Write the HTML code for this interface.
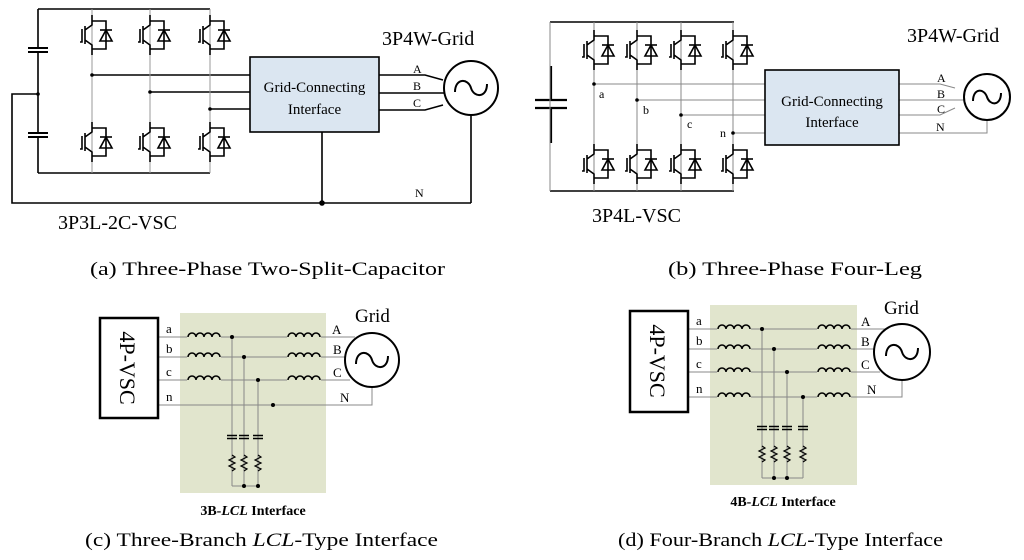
<!DOCTYPE html>
<html><head><meta charset="utf-8"><style>
html,body{margin:0;padding:0;background:#fff}
svg{display:block}
text{font-family:"Liberation Serif",serif}
</style></head><body>
<svg width="1024" height="560" viewBox="0 0 1024 560" xmlns="http://www.w3.org/2000/svg">
<defs>
<g id="sw" fill="none" stroke="#000" stroke-width="1.6">
<path d="M0 0V10L-7 15M-7 11V29M-7 25L0 30V40M-12 27H-10V14"/>
<path d="M0 6H14V34H0"/>
<polygon points="8,26 20,26 14,15" />
<path d="M8 15H20"/>
</g>
<g id="ind" fill="none" stroke="#000" stroke-width="1.6">
<path d="M0 0a4 4 0 0 1 8 0a4 4 0 0 1 8 0a4 4 0 0 1 8 0a4 4 0 0 1 8 0"/>
</g>
<g id="rc" fill="none" stroke="#000" stroke-width="1.2">
<path d="M-5 -1.5H5M-5 1.5H5" stroke-width="1.4"/>
<path d="M0 18l3 2l-6 3l6 3l-6 3l6 3l-3 2"/>
</g>
</defs>

<!-- ============ Panel (a) ============ -->
<g stroke="#000" fill="none" stroke-width="1.6">
<path d="M38 9H210M38 173H210"/>
<path d="M38 9V48M38 52V94M38 94V133M38 137V173" />
<path d="M28 48H48M28 52H48M28 133H48M28 137H48" stroke-width="2"/>
<path d="M38 94H12V203H471"/>
<path d="M92 75H250M150 92H250M210 109H250"/>
<path d="M379 75H425L443 80M379 93H445M379 110H425L443 105"/>
<path d="M322 132V203M471 115V203"/>
</g>
<g stroke="#999" stroke-width="1" fill="none"><path d="M92 9V173M150 9V173M210 9V173"/></g>
<use href="#sw" x="92" y="15"/><use href="#sw" x="150" y="15"/><use href="#sw" x="210" y="15"/>
<use href="#sw" x="92" y="122"/><use href="#sw" x="150" y="122"/><use href="#sw" x="210" y="122"/>
<g fill="#000"><circle cx="38" cy="94" r="1.8"/><circle cx="92" cy="75" r="1.8"/><circle cx="150" cy="92" r="1.8"/><circle cx="210" cy="109" r="1.8"/><circle cx="322" cy="203" r="2.8"/></g>
<rect x="250" y="57" width="129" height="75" fill="#dbe6f1" stroke="#000" stroke-width="1.6"/>
<text x="314.5" y="92" font-size="15" text-anchor="middle">Grid-Connecting</text>
<text x="314.5" y="114" font-size="15" text-anchor="middle">Interface</text>
<circle cx="471" cy="88" r="27" fill="#fff" stroke="#000" stroke-width="2"/>
<path d="M455 92c0-14 13-14 16-4s16 10 16-4" fill="none" stroke="#000" stroke-width="2"/>
<g font-size="12"><text x="413" y="73">A</text><text x="413" y="90">B</text><text x="413" y="107">C</text><text x="415" y="197">N</text></g>
<text x="382" y="45" font-size="20">3P4W-Grid</text>
<text x="58" y="229" font-size="20">3P3L-2C-VSC</text>

<!-- ============ Panel (b) ============ -->
<g stroke="#000" fill="none" stroke-width="1.6">
<path d="M550 22H734M550 191H734"/>
<path d="M535 100H567M535 108H567" stroke-width="2.2"/>
<path d="M551 66V100M551 108V143" stroke-width="2.2"/>
</g>
<g stroke="#888" stroke-width="1" fill="none">
<path d="M550 22V191"/>
<path d="M594 22V191M637 22V191M681 22V191M733 22V191"/>
<path d="M594 84H765M637 100H765M681 115H765M733 133H765"/>
<path d="M899 84H940L955 88M899 100H964M899 115H940L955 108M899 133H987V120"/>
</g>
<use href="#sw" x="594" y="30"/><use href="#sw" x="637" y="30"/><use href="#sw" x="681" y="30"/><use href="#sw" x="733" y="30"/>
<use href="#sw" x="594" y="144"/><use href="#sw" x="637" y="144"/><use href="#sw" x="681" y="144"/><use href="#sw" x="733" y="144"/>
<g fill="#000"><circle cx="594" cy="84" r="1.8"/><circle cx="637" cy="100" r="1.8"/><circle cx="681" cy="115" r="1.8"/><circle cx="733" cy="133" r="1.8"/></g>
<g font-size="12"><text x="599" y="98">a</text><text x="643" y="114">b</text><text x="687" y="128">c</text><text x="720" y="137">n</text></g>
<rect x="765" y="70" width="134" height="75" fill="#dbe6f1" stroke="#000" stroke-width="1.6"/>
<text x="832" y="106" font-size="15" text-anchor="middle">Grid-Connecting</text>
<text x="832" y="127" font-size="15" text-anchor="middle">Interface</text>
<circle cx="987" cy="97" r="23" fill="#fff" stroke="#000" stroke-width="2"/>
<path d="M973 101c0-13 11-13 14-4s14 9 14-4" fill="none" stroke="#000" stroke-width="2"/>
<g font-size="12"><text x="937" y="82">A</text><text x="937" y="98">B</text><text x="937" y="113">C</text><text x="936" y="131">N</text></g>
<text x="907" y="42" font-size="20">3P4W-Grid</text>
<text x="592" y="222" font-size="20">3P4L-VSC</text>

<text x="90" y="275" font-size="19" textLength="355" lengthAdjust="spacingAndGlyphs">(a) Three-Phase Two-Split-Capacitor</text>
<text x="668" y="275" font-size="19" textLength="254" lengthAdjust="spacingAndGlyphs">(b) Three-Phase Four-Leg</text>

<!-- ============ Panel (c) ============ -->
<rect x="180" y="313" width="146" height="180" fill="#e1e5cd"/>
<g stroke="#888" stroke-width="1" fill="none">
<path d="M158 337H355M158 357H345M158 380H350M158 405H372V387"/>
<path d="M232 337V486M244 357V486M258 380V486"/>
<path d="M232 486H258"/>
</g>
<g fill="#e1e5cd" stroke="none"><rect x="187" y="330" width="34" height="55"/><rect x="287" y="330" width="34" height="55"/></g>
<use href="#ind" x="188" y="337"/><use href="#ind" x="188" y="357"/><use href="#ind" x="188" y="380"/>
<use href="#ind" x="288" y="337"/><use href="#ind" x="288" y="357"/><use href="#ind" x="288" y="380"/>
<use href="#rc" x="232" y="437"/><use href="#rc" x="244" y="437"/><use href="#rc" x="258" y="437"/>
<g fill="#000"><circle cx="232" cy="337" r="2"/><circle cx="244" cy="357" r="2"/><circle cx="258" cy="380" r="2"/><circle cx="273" cy="405" r="2"/><circle cx="244" cy="486" r="2"/><circle cx="258" cy="486" r="2"/></g>
<rect x="100" y="318" width="58" height="100" fill="#fff" stroke="#000" stroke-width="2.5"/>
<text transform="translate(120,368) rotate(90)" font-size="22" text-anchor="middle">4P-VSC</text>
<g font-size="13"><text x="166" y="333">a</text><text x="166" y="353">b</text><text x="166" y="376">c</text><text x="166" y="401">n</text>
<text x="332" y="334">A</text><text x="333" y="354">B</text><text x="333" y="377">C</text><text x="340" y="402">N</text></g>
<circle cx="372" cy="360" r="27" fill="#fff" stroke="#000" stroke-width="2"/>
<path d="M356 364c0-14 13-14 16-4s16 10 16-4" fill="none" stroke="#000" stroke-width="2"/>
<text x="355" y="322" font-size="19">Grid</text>
<text x="253" y="515" font-size="14" font-weight="bold" text-anchor="middle">3B-<tspan font-style="italic">LCL</tspan> Interface</text>
<text x="85" y="546" font-size="19" textLength="353" lengthAdjust="spacingAndGlyphs">(c) Three-Branch <tspan font-style="italic">LCL</tspan>-Type Interface</text>

<!-- ============ Panel (d) ============ -->
<rect x="710" y="305" width="147" height="180" fill="#e1e5cd"/>
<g stroke="#888" stroke-width="1" fill="none">
<path d="M688 329H885M688 349H876M688 372H880M688 397H902V380"/>
<path d="M762 329V478M774 349V478M787 372V478M803 397V478"/>
<path d="M762 478H803"/>
</g>
<g fill="#e1e5cd" stroke="none"><rect x="717" y="322" width="34" height="80"/><rect x="817" y="322" width="34" height="80"/></g>
<use href="#ind" x="718" y="329"/><use href="#ind" x="718" y="349"/><use href="#ind" x="718" y="372"/><use href="#ind" x="718" y="397"/>
<use href="#ind" x="818" y="329"/><use href="#ind" x="818" y="349"/><use href="#ind" x="818" y="372"/><use href="#ind" x="818" y="397"/>
<use href="#rc" x="762" y="428"/><use href="#rc" x="774" y="428"/><use href="#rc" x="787" y="428"/><use href="#rc" x="803" y="428"/>
<g fill="#000"><circle cx="762" cy="329" r="2"/><circle cx="774" cy="349" r="2"/><circle cx="787" cy="372" r="2"/><circle cx="803" cy="397" r="2"/><circle cx="774" cy="478" r="2"/><circle cx="787" cy="478" r="2"/></g>
<rect x="630" y="311" width="58" height="101" fill="#fff" stroke="#000" stroke-width="2.5"/>
<text transform="translate(650,361) rotate(90)" font-size="22" text-anchor="middle">4P-VSC</text>
<g font-size="13"><text x="696" y="325">a</text><text x="696" y="345">b</text><text x="696" y="368">c</text><text x="696" y="393">n</text>
<text x="861" y="326">A</text><text x="861" y="346">B</text><text x="861" y="369">C</text><text x="867" y="394">N</text></g>
<circle cx="902" cy="352" r="28" fill="#fff" stroke="#000" stroke-width="2"/>
<path d="M886 356c0-14 13-14 16-4s16 10 16-4" fill="none" stroke="#000" stroke-width="2"/>
<text x="884" y="314" font-size="19">Grid</text>
<text x="783" y="506" font-size="14" font-weight="bold" text-anchor="middle">4B-<tspan font-style="italic">LCL</tspan> Interface</text>
<text x="618" y="546" font-size="19" textLength="325" lengthAdjust="spacingAndGlyphs">(d) Four-Branch <tspan font-style="italic">LCL</tspan>-Type Interface</text>
</svg>
</body></html>
